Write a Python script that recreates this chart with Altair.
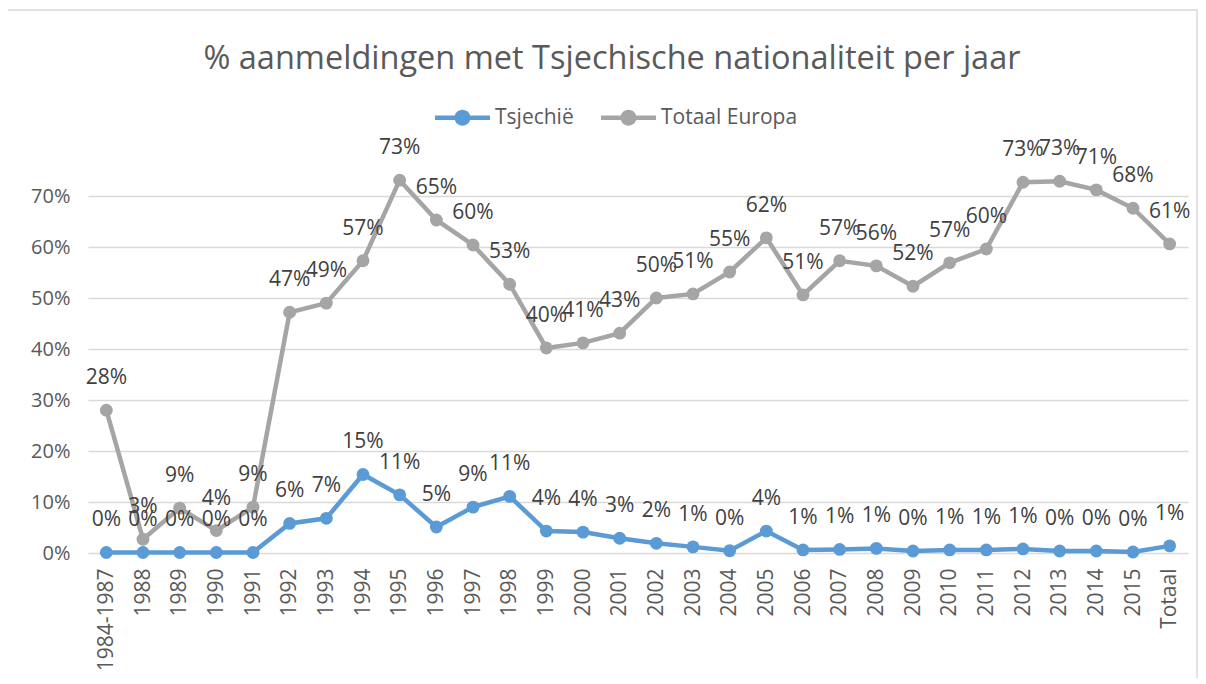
import altair as alt
import pandas as pd

categories = ["1984-1987", "1988", "1989", "1990", "1991", "1992", "1993", "1994",
              "1995", "1996", "1997", "1998", "1999", "2000", "2001", "2002", "2003",
              "2004", "2005", "2006", "2007", "2008", "2009", "2010", "2011", "2012",
              "2013", "2014", "2015", "Totaal"]

tsjechie = [0.001, 0.001, 0.001, 0.001, 0.001, 0.058, 0.068, 0.154, 0.114, 0.051,
            0.090, 0.111, 0.043, 0.041, 0.029, 0.019, 0.012, 0.0045, 0.043, 0.006,
            0.007, 0.009, 0.004, 0.006, 0.006, 0.008, 0.004, 0.004, 0.002, 0.014]

totaal_europa = [0.280, 0.027, 0.088, 0.044, 0.090, 0.472, 0.490, 0.573, 0.731, 0.653,
                 0.604, 0.527, 0.402, 0.412, 0.431, 0.500, 0.508, 0.551, 0.618, 0.506,
                 0.573, 0.563, 0.523, 0.569, 0.596, 0.727, 0.729, 0.712, 0.676, 0.606]

series_names = ["Tsjechië", "Totaal Europa"]
series_colors = ["#5B9BD5", "#A5A5A5"]
y_ticks = [0, 0.1, 0.2, 0.3, 0.4, 0.5, 0.6, 0.7]

rows = []
for name, vals in zip(series_names, [tsjechie, totaal_europa]):
    for c, v in zip(categories, vals):
        rows.append({"cat": c, "series": name, "value": v})
df = pd.DataFrame(rows)

FONT = "Open Sans"
TXT = "#595959"

legend_path = ("M-1,-0.08 L1,-0.08 L1,0.08 L-1,0.08 Z "
               "M-0.29,0 A0.29,0.29 0 1,1 0.29,0 A0.29,0.29 0 1,1 -0.29,0 Z")

legend = alt.Legend(
    title=None, orient="none", direction="horizontal", legendX=347, legendY=-106,
    symbolType=legend_path, symbolSize=3025, symbolStrokeWidth=0,
    labelFont=FONT, labelFontSize=21, labelColor=TXT, labelOffset=5,
    columnPadding=27, padding=0,
)
color_scale = alt.Scale(domain=series_names, range=series_colors)

x_enc = alt.X("cat:N", sort=categories, scale=alt.Scale(paddingOuter=0.5, paddingInner=0),
              axis=alt.Axis(title=None, labelAngle=-90, labelAlign="right", labelBaseline="middle",
                            labelFont=FONT, labelFontSize=21, labelColor=TXT, labelPadding=15,
                            domain=False, ticks=False, grid=False))
y_enc = alt.Y("value:Q", scale=alt.Scale(domain=[0, 0.7], nice=False),
              axis=alt.Axis(title=None, values=y_ticks, format=".0%", labelFont=FONT,
                            labelFontSize=20, labelColor=TXT, labelPadding=18,
                            domain=False, ticks=False, gridColor="#D9D9D9", gridWidth=1.5))

base = alt.Chart(df)

lines = base.mark_line(strokeWidth=4.5, clip=False).encode(
    x=x_enc, y=y_enc,
    stroke=alt.Stroke("series:N", scale=color_scale, legend=legend),
)
points = base.mark_point(filled=True, size=165, opacity=1, clip=False).encode(
    x=x_enc, y=y_enc,
    fill=alt.Fill("series:N", scale=color_scale, legend=legend),
)
labels = base.mark_text(dy=-32, font=FONT, fontSize=21, color="#404040", clip=False).encode(
    x=x_enc, y=y_enc,
    text=alt.Text("value:Q", format=".0%"),
)

frame = alt.Chart(pd.DataFrame({"a": [0]})).mark_rect(
    fill=None, stroke="#D9D9D9", strokeWidth=1.5, clip=False
).encode(x=alt.value(-81), x2=alt.value(1109), y=alt.value(-186), y2=alt.value(490))

chart = alt.layer(frame, lines, points, labels).properties(
    width=1100, height=357,
    title=alt.TitleParams("% aanmeldingen met Tsjechische nationaliteit per jaar",
                          font=FONT, fontSize=32.5, fontWeight="normal", color=TXT,
                          anchor="middle", dx=-26, offset=-66),
    autosize=alt.AutoSizeParams(type="none"),
    padding={"left": 80, "top": 188, "right": 10, "bottom": 125},
    background="white",
).configure_view(stroke=None)

chart.save("out.html", embed_options={"renderer": "svg", "actions": False})
